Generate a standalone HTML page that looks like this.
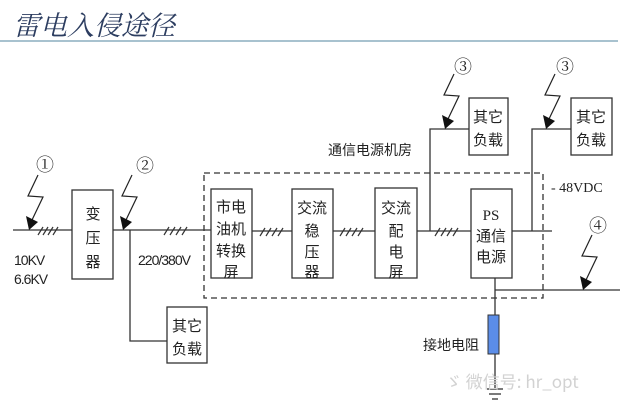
<!DOCTYPE html>
<html><head><meta charset="utf-8"><style>
body{margin:0;background:#fff;}
svg{display:block}
text{font-family:"Liberation Serif","Noto Serif CJK SC",serif;fill:#222}
text.s{font-family:"Liberation Sans",sans-serif;letter-spacing:-1px}
text.c{font-family:"Noto Sans CJK SC",sans-serif}
</style></head><body>
<svg width="640" height="412" viewBox="0 0 640 412" xmlns="http://www.w3.org/2000/svg">
<defs>
<g id="bolt"><polyline points="9,-55 -1,-34 14,-33 3,-10" fill="none" stroke="#222" stroke-width="1.2"/><polygon points="0,0 -3,-14 9,-8" fill="#111"/></g>
</defs>
<text x="13" y="35" font-size="27" font-style="italic" style="font-family:'Noto Serif CJK SC',serif;fill:#2c3d60">雷电入侵途径</text>
<rect x="0" y="40" width="618" height="2" fill="#a8c2cf"/>

<g stroke="#333" stroke-width="1.3" fill="none">
<line x1="13" y1="230" x2="72" y2="230"/>
<line x1="113" y1="230" x2="211" y2="230"/>
<line x1="252" y1="231" x2="292" y2="231"/>
<line x1="333" y1="231" x2="375" y2="231"/>
<line x1="417" y1="231" x2="471" y2="231"/>
<line x1="512" y1="231" x2="552" y2="231"/>
<polyline points="130,230 130,341 167,341"/>
<polyline points="430,231 430,129 469,129"/>
<polyline points="532,231 532,129 571,129"/>
<line x1="495" y1="278" x2="495" y2="388"/>
<line x1="495" y1="290" x2="620" y2="290"/>
<line x1="487" y1="389" x2="503" y2="389"/>
<line x1="489" y1="394" x2="501" y2="394"/>
<line x1="492" y1="399" x2="498" y2="399"/>
<rect x="72" y="190" width="41" height="89"/>
<rect x="211" y="189" width="41" height="89"/>
<rect x="292" y="189" width="41" height="89"/>
<rect x="375" y="188" width="42" height="90"/>
<rect x="471" y="189" width="41" height="89"/>
<rect x="167" y="307" width="40" height="56"/>
<rect x="469" y="98" width="39" height="57"/>
<rect x="571" y="98" width="41" height="57"/>
<rect x="204" y="173" width="339" height="125" stroke-dasharray="6,4"/>
</g>
<rect x="488" y="315" width="11" height="39" fill="#5b8de8" stroke="#333" stroke-width="1"/>
<g stroke="#333" stroke-width="1.2">
<path d="M38,235 l5,-8 M43,235 l5,-8 M48,235 l5,-8 M53,235 l5,-8"/>
<path d="M164,235 l5,-8 M170,235 l5,-8 M176,235 l5,-8 M182,235 l5,-8"/>
<path d="M260,236 l5,-8 M266,236 l5,-8 M272,236 l5,-8 M278,236 l5,-8"/>
<path d="M340,236 l5,-8 M346,236 l5,-8 M352,236 l5,-8 M358,236 l5,-8"/>
<path d="M435,236 l5,-8 M441,236 l5,-8 M447,236 l5,-8 M453,236 l5,-8"/>
</g>
<use href="#bolt" x="29" y="230"/>
<use href="#bolt" x="123" y="230"/>
<use href="#bolt" x="445" y="129"/>
<use href="#bolt" x="546" y="129"/>
<use href="#bolt" x="583" y="290"/>
<g font-size="18">
<text x="36" y="171">①</text><text x="136" y="172">②</text>
<text x="454" y="73">③</text><text x="556" y="73">③</text><text x="589" y="232">④</text>
</g>
<g font-size="15" text-anchor="middle">
<text class="c" x="93" y="219">变</text><text class="c" x="93" y="243">压</text><text class="c" x="93" y="267">器</text>
<text class="c" x="231" y="212">市电</text><text class="c" x="231" y="234">油机</text><text class="c" x="231" y="256">转换</text><text class="c" x="231" y="277">屏</text>
<text class="c" x="312" y="213">交流</text><text class="c" x="312" y="236">稳</text><text class="c" x="312" y="257">压</text><text class="c" x="312" y="277">器</text>
<text class="c" x="396" y="213">交流</text><text class="c" x="396" y="236">配</text><text class="c" x="396" y="257">电</text><text class="c" x="396" y="277">屏</text>
<text x="491" y="220">PS</text><text class="c" x="491" y="241">通信</text><text class="c" x="491" y="262">电源</text>
<text class="c" x="187" y="331">其它</text><text class="c" x="187" y="354">负载</text>
<text class="c" x="488" y="122">其它</text><text class="c" x="488" y="145">负载</text>
<text class="c" x="591" y="122">其它</text><text class="c" x="591" y="145">负载</text>
</g>
<g font-size="14">
<text class="s" x="14" y="265">10KV</text><text class="s" x="14" y="284">6.6KV</text>
<text class="s" x="138" y="265">220/380V</text>
</g>
<text x="551" y="192" font-size="14">- 48VDC</text>
<text class="c" x="328" y="155" font-size="14">通信电源机房</text>
<text class="c" x="423" y="350" font-size="14">接地电阻</text>
<text class="c" x="445" y="388" font-size="17" style="fill:#d2d2d2">ゞ 微信号: hr_opt</text>
</svg>
</body></html>
